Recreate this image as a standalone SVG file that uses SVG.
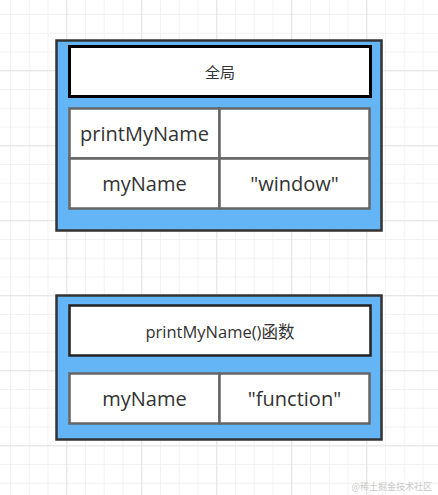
<svg xmlns="http://www.w3.org/2000/svg" width="438" height="495" viewBox="0 0 438 495">
<defs>
<pattern id="minor" x="10" y="14" width="18.75" height="18.75" patternUnits="userSpaceOnUse">
<path d="M0.5 0V18.75M0 0.5H18.75" fill="none" stroke="#f2f2f2" stroke-width="1"/>
</pattern>
<pattern id="major" x="66.25" y="70.25" width="75" height="75" patternUnits="userSpaceOnUse">
<path d="M0.5 0V75M0 0.5H75" fill="none" stroke="#e4e4e4" stroke-width="1"/>
</pattern>
</defs>
<style>
.outer{fill:#64b5f6;stroke:#333333;stroke-width:2.5}
.title{fill:#ffffff;stroke:#000000;stroke-width:3}
.title2{fill:#ffffff;stroke:#222222;stroke-width:2.5}
.cell{fill:#ffffff;stroke:#666666;stroke-width:2.5}
.t{font-family:"Open Sans","Noto Sans","Noto Sans CJK SC",sans-serif;fill:#333333;text-anchor:middle;dominant-baseline:central}
.big{font-size:20px}
.small{font-size:15px}
.wm{font-family:"Noto Sans CJK SC",sans-serif;font-size:9px;fill:#c8c8c8;text-anchor:end;dominant-baseline:central}
</style>
<rect width="438" height="495" fill="#ffffff"/>
<rect width="438" height="495" fill="url(#minor)"/>
<rect width="438" height="495" fill="url(#major)"/>
<g id="connectors"></g>
<g id="global">
<rect class="outer" x="56.5" y="40.5" width="325" height="190"/>
<rect class="title" x="69.5" y="46.5" width="301" height="50"/>
<text class="t small" x="220" y="72">全局</text>
<rect class="cell" x="69.5" y="108.5" width="150" height="50"/>
<rect class="cell" x="219.5" y="108.5" width="150" height="50"/>
<rect class="cell" x="69.5" y="158.5" width="150" height="50"/>
<rect class="cell" x="219.5" y="158.5" width="150" height="50"/>
<text class="t big" x="144.5" y="133.5">printMyName</text>
<text class="t big" x="144.5" y="183.5">myName</text>
<text class="t big" x="294.5" y="183.5">"window"</text>
</g>
<g id="function">
<rect class="outer" x="56.5" y="295.5" width="325" height="144"/>
<rect class="title2" x="69.5" y="305.5" width="301" height="50"/>
<text class="t" style="font-size:16.5px" x="220" y="331">printMyName()函数</text>
<rect class="cell" x="69.5" y="373.5" width="150" height="50"/>
<rect class="cell" x="219.5" y="373.5" width="150" height="50"/>
<text class="t big" x="144.5" y="398">myName</text>
<text class="t big" x="294.5" y="398">"function"</text>
</g>
<text class="wm" x="432" y="486">@稀土掘金技术社区</text>
</svg>
